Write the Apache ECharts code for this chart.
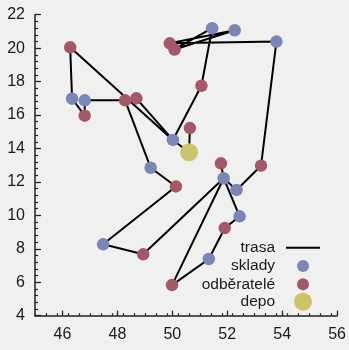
<!DOCTYPE html>
<html>
<head>
<meta charset="utf-8">
<script src="https://cdn.jsdelivr.net/npm/echarts@6/dist/echarts.min.js"></script>
<style>
html,body{margin:0;padding:0;background:#f0f0f0;}
#c{width:349px;height:350px;}
</style>
</head>
<body>
<div id="c"></div>
<script>
// sklady (warehouses)
const skladyNames = ['S1','S2','S3','S4','S5','S6','S7','S8','S9','S10','S11','S12'];
const skladyX = [46.35, 46.81, 50.02, 49.21, 51.45, 52.27, 53.79, 51.87, 52.34, 52.45, 51.33, 47.48];
const skladyY = [16.98, 16.88, 14.51, 12.85, 21.19, 21.07, 20.39, 12.22, 11.52, 9.94, 7.39, 8.27];
// odběratelé (customers)
const odberNames = ['O1','O2','O3','O4','O5','O6','O7','O8','O9','O10','O11','O12','O13','O14'];
const odberX = [46.28, 46.81, 48.28, 48.69, 49.91, 50.08, 51.06, 50.64, 51.77, 53.23, 49.99, 48.94, 50.13, 51.91];
const odberY = [20.05, 15.96, 16.88, 17.00, 20.29, 19.92, 17.75, 15.22, 13.11, 12.97, 5.83, 7.67, 11.73, 9.24];
// depo
const depoX = [50.61];
const depoY = [13.77];
// trasa (route) as polylines of node names
const trasaPaths = [
  ['D','S3','O1','S1','O2','S2','O3','S4','O13','S12','O12','S8'],
  ['D','O8'],
  ['S3','O4'],
  ['S3','O7','S5','O6','S6','O5','S7','O10','S9','S8'],
  ['S8','S10','O14','S11','O11','S8'],
  ['S8','O9']
];
// legend labels
const legendNames = ['trasa', 'sklady', 'odběratelé', 'depo'];
// axis ticks
const xMajor = [46, 48, 50, 52, 54, 56];
const xMin = 45, xMax = 56, yMin = 4, yMax = 22;

const colors = {trasa: '#000000', sklady: '#7a86b3', odber: '#a55868', depo: '#cbc46a'};

const nodes = {};
skladyNames.forEach((n,i)=>nodes[n]=[skladyX[i], skladyY[i]]);
odberNames.forEach((n,i)=>nodes[n]=[odberX[i], odberY[i]]);
nodes['D'] = [depoX[0], depoY[0]];

const lineData = [];
trasaPaths.forEach(p=>{
  p.forEach(n=>lineData.push(nodes[n]));
  lineData.push(['-','-']);
});

const xMinor = [];
for (let k = 1; k * 0.4 + xMin <= xMax + 1e-9; k++) {
  const v = +(xMin + k * 0.4).toFixed(2);
  if (xMajor.indexOf(v) < 0) xMinor.push(v);
}

const font = 'Liberation Sans, Arial, sans-serif';
const axisColor = '#222';
const textColor = '#1a1a1a';

// legend drawn as graphic (layout only)
const legX = 275, iconX0 = 286, iconX1 = 320, iconCx = 303;
const legRows = [247.7, 266, 284.3, 301.7];
const legSizes = [0, 6, 6, 9];
const legColors = [colors.trasa, colors.sklady, colors.odber, colors.depo];
const graphics = [];
legendNames.forEach((name, i) => {
  graphics.push({type: 'text', left: null, x: legX, y: legRows[i], z: 100,
    style: {text: name, fill: textColor, font: '15.5px ' + font, textAlign: 'right', textVerticalAlign: 'middle'}});
  if (i === 0) {
    graphics.push({type: 'line', z: 100, shape: {x1: iconX0, y1: legRows[i], x2: iconX1, y2: legRows[i]},
      style: {stroke: legColors[i], lineWidth: 2}});
  } else {
    graphics.push({type: 'circle', z: 100, shape: {cx: iconCx, cy: legRows[i], r: legSizes[i]},
      style: {fill: legColors[i]}});
  }
});

const chart = echarts.init(document.getElementById('c'));
chart.setOption({
  backgroundColor: '#f0f0f0',
  animation: false,
  grid: {left: 35, right: 10.7, top: 14.7, bottom: 34.3, containLabel: false},
  xAxis: [
    {type: 'value', min: xMin, max: xMax, position: 'bottom',
     axisLine: {lineStyle: {color: axisColor, width: 1.5}},
     axisTick: {inside: true, length: 5, customValues: xMajor, lineStyle: {color: axisColor, width: 1.3}},
     axisLabel: {customValues: xMajor, fontSize: 16, margin: 11, color: textColor, fontFamily: font},
     splitLine: {show: false}},
    {type: 'value', min: xMin, max: xMax, position: 'bottom',
     axisLine: {show: false},
     axisTick: {inside: true, length: 2.5, customValues: xMinor, lineStyle: {color: axisColor, width: 1.2}},
     axisLabel: {show: false},
     splitLine: {show: false}}
  ],
  yAxis: {type: 'value', min: yMin, max: yMax, interval: 2,
    axisLine: {show: true, lineStyle: {color: axisColor, width: 1.5}},
    axisTick: {show: true, inside: true, length: 6, lineStyle: {color: axisColor, width: 1.3}},
    minorTick: {show: true, splitNumber: 5, length: 3, lineStyle: {color: axisColor, width: 1.2}},
    axisLabel: {fontSize: 16, margin: 10, color: textColor, fontFamily: font},
    splitLine: {show: false}},
  legend: {show: false, data: legendNames},
  graphic: graphics,
  series: [
    {name: 'trasa', type: 'line', data: lineData, symbol: 'none', connectNulls: false,
     lineStyle: {color: colors.trasa, width: 2}, itemStyle: {color: colors.trasa}, z: 2},
    {name: 'sklady', type: 'scatter', data: skladyX.map((x,i)=>[x, skladyY[i]]), symbolSize: 12.5,
     itemStyle: {color: colors.sklady, opacity: 1}, z: 4},
    {name: 'odběratelé', type: 'scatter', data: odberX.map((x,i)=>[x, odberY[i]]), symbolSize: 12.5,
     itemStyle: {color: colors.odber, opacity: 1}, z: 3},
    {name: 'depo', type: 'scatter', data: depoX.map((x,i)=>[x, depoY[i]]), symbolSize: 18,
     itemStyle: {color: colors.depo, opacity: 1}, z: 5}
  ]
});
</script>
</body>
</html>
